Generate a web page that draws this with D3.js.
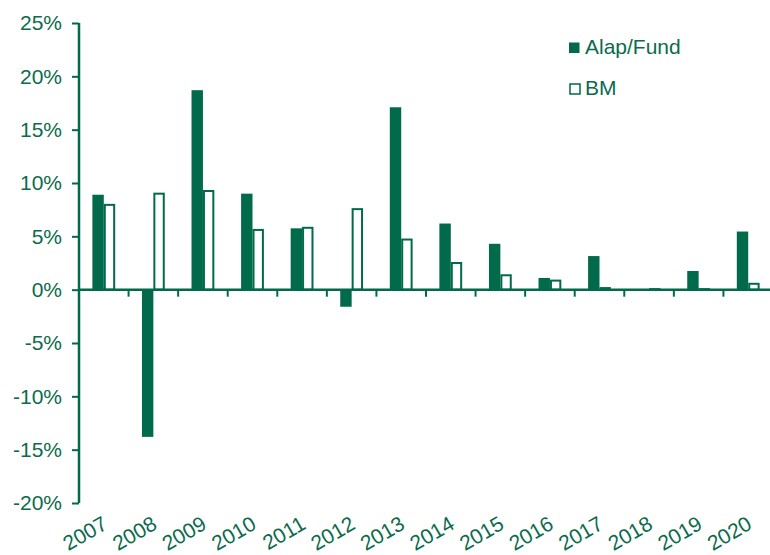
<!DOCTYPE html>
<html>
<head>
<meta charset="utf-8">
<script src="https://cdn.jsdelivr.net/npm/d3@7"></script>
<style>
  body { margin: 0; background: #fff; }
  text { font-family: "Liberation Sans", Arial, sans-serif; }
</style>
</head>
<body>
<div id="chart"></div>
<script>
// Data
const years = ["2007","2008","2009","2010","2011","2012","2013","2014","2015","2016","2017","2018","2019","2020"];
const fundValues = [8.9, -13.8, 18.7, 9.0, 5.75, -1.6, 17.1, 6.2, 4.3, 1.1, 3.15, 0.05, 1.75, 5.45];
const bmValues = [7.95, 9.0, 9.25, 5.6, 5.8, 7.55, 4.7, 2.5, 1.35, 0.85, 0.15, 0.05, 0.05, 0.55];
const yTicks = [-20, -15, -10, -5, 0, 5, 10, 15, 20, 25];
const seriesNames = ["Alap/Fund", "BM"];

const width = 770;
const height = 555;
const green = "#006a4a";
const textColor = "#0b6b4c";

const svg = d3.select("#chart")
    .append("svg")
    .attr("width", width)
    .attr("height", height);

const x = d3.scaleBand()
    .domain(years)
    .range([79, 773]);

const y = d3.scaleLinear()
    .domain([-20, 25])
    .range([503, 23]);

const barW = x.bandwidth() * 0.23;

// bars - fund (filled)
svg.append("g").selectAll("rect")
    .data(years)
    .enter()
    .append("rect")
    .attr("x", d => x(d) + x.bandwidth() / 2 - barW)
    .attr("y", (d, i) => y(Math.max(0, fundValues[i])))
    .attr("width", barW)
    .attr("height", (d, i) => Math.abs(y(fundValues[i]) - y(0)))
    .attr("fill", green);

// bars - BM (hollow)
svg.append("g").selectAll("rect")
    .data(years)
    .enter()
    .append("rect")
    .attr("x", d => x(d) + x.bandwidth() / 2 + 1)
    .attr("y", (d, i) => y(Math.max(0, bmValues[i])))
    .attr("width", barW - 2)
    .attr("height", (d, i) => Math.abs(y(bmValues[i]) - y(0)))
    .attr("fill", "#fff")
    .attr("stroke", green)
    .attr("stroke-width", 2);

// y axis
const yAxis = svg.append("g")
    .attr("transform", "translate(79,0)")
    .call(d3.axisLeft(y).tickValues(yTicks).tickSize(7).tickPadding(10)
        .tickFormat(d => d + "%"));
yAxis.select(".domain").attr("stroke", green).attr("stroke-width", 2.5)
    .attr("d", "M0," + y(25) + "V" + y(-20));
yAxis.selectAll(".tick line").attr("stroke", green).attr("stroke-width", 2);
yAxis.selectAll(".tick text")
    .attr("fill", textColor)
    .attr("font-size", 21)
    .attr("font-family", "Liberation Sans, Arial, sans-serif");

// zero line with category ticks
svg.append("line")
    .attr("x1", 79).attr("x2", 773)
    .attr("y1", y(0)).attr("y2", y(0))
    .attr("stroke", green).attr("stroke-width", 2.5);

svg.append("g").selectAll("line")
    .data(years.slice(1))
    .enter()
    .append("line")
    .attr("x1", d => x(d)).attr("x2", d => x(d))
    .attr("y1", y(0)).attr("y2", y(0) + 7)
    .attr("stroke", green).attr("stroke-width", 2);

// x labels
svg.append("g").selectAll("text")
    .data(years)
    .enter()
    .append("text")
    .attr("transform", d => "translate(" + (x(d) + x.bandwidth() / 2 + 5) + ",528) rotate(-30)")
    .attr("text-anchor", "end")
    .attr("fill", textColor)
    .attr("font-size", 21)
    .text(d => d);

// legend
const legend = svg.append("g");
legend.append("rect")
    .attr("x", 569).attr("y", 42.5).attr("width", 10.5).attr("height", 10.5)
    .attr("fill", green);
legend.append("rect")
    .attr("x", 570).attr("y", 84).attr("width", 10).attr("height", 10)
    .attr("fill", "#fff").attr("stroke", green).attr("stroke-width", 1.5);
legend.selectAll("text")
    .data(seriesNames)
    .enter()
    .append("text")
    .attr("x", 585)
    .attr("y", (d, i) => 54 + i * 41)
    .attr("fill", textColor)
    .attr("font-size", 21)
    .text(d => d);
</script>
</body>
</html>
